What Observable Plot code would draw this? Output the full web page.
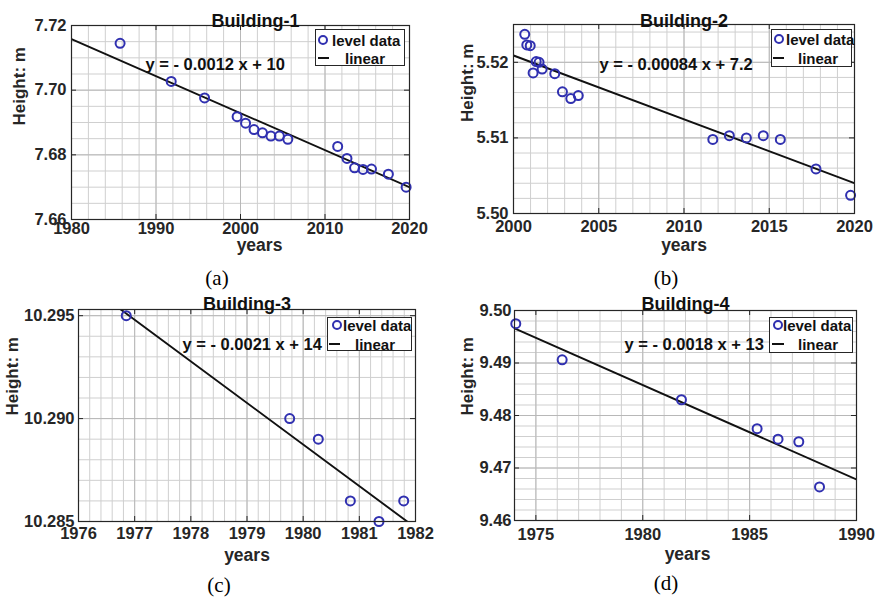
<!DOCTYPE html>
<html>
<head>
<meta charset="utf-8">
<script src="https://cdn.jsdelivr.net/npm/d3@7"></script>
<script src="https://cdn.jsdelivr.net/npm/@observablehq/plot@0.6"></script>
<style>
  html, body { margin: 0; padding: 0; background: #fff; }
  #wrap { position: relative; width: 878px; height: 599px; overflow: hidden; background: #fff; font-family: "Liberation Sans", Arial, sans-serif; }
  .panel { position: absolute; }
  .caption { position: absolute; font-family: "Liberation Serif", "Times New Roman", serif; font-size: 21px; color: #000; transform: translate(-50%, -50%); white-space: nowrap; }
  .legend { position: absolute; border: 1px solid #262626; background: #fff; box-sizing: border-box; font-weight: bold; font-size: 15px; color: #111; }
  .legend .mk { position: absolute; width: 10px; height: 10px; border: 2px solid #3030b0; border-radius: 50%; box-sizing: border-box; transform: translate(-50%, -50%); }
  .legend .ln { position: absolute; height: 2px; background: #111; transform: translateY(-50%); }
  .legend .tx { position: absolute; transform: translateY(-50%); white-space: nowrap; line-height: 1; }
</style>
</head>
<body>
<div id="wrap"></div>
<script>
// ---------- data ----------
const titles = ["Building-1", "Building-2", "Building-3", "Building-4"];
const captions = ["(a)", "(b)", "(c)", "(d)"];
const equations = ["y = - 0.0012 x + 10", "y = - 0.00084 x + 7.2", "y = - 0.0021 x + 14", "y = - 0.0018 x + 13"];
const xLabel = "years";
const yLabel = "Height: m";
const legendLabels = ["level data", "linear"];

const years1 = [1985.75, 1991.8, 1995.75, 1999.6, 2000.6, 2001.6, 2002.6, 2003.6, 2004.6, 2005.6, 2011.5, 2012.6, 2013.5, 2014.5, 2015.5, 2017.5, 2019.6];
const heights1 = [7.7145, 7.7027, 7.6976, 7.6918, 7.6898, 7.6878, 7.6868, 7.6858, 7.6858, 7.6848, 7.6826, 7.6789, 7.6760, 7.6755, 7.6756, 7.6740, 7.6700];
const fitYears1 = [1980, 2020];
const fitHeights1 = [7.7158, 7.6700];

const years2 = [2000.66, 2000.78, 2000.98, 2001.15, 2001.33, 2001.5, 2001.68, 2002.42, 2002.87, 2003.36, 2003.8, 2011.69, 2012.66, 2013.66, 2014.65, 2015.65, 2017.74, 2019.77];
const heights2 = [5.5237, 5.5223, 5.5222, 5.5186, 5.5201, 5.5200, 5.5191, 5.5185, 5.5161, 5.5152, 5.5156, 5.5098, 5.5103, 5.5100, 5.5103, 5.5098, 5.5059, 5.5024];
const fitYears2 = [2000, 2020];
const fitHeights2 = [5.5209, 5.5040];

const years3 = [1976.85, 1979.76, 1980.27, 1980.84, 1981.35, 1981.79];
const heights3 = [10.295, 10.290, 10.289, 10.286, 10.285, 10.286];
const fitYears3 = [1976, 1982];
const fitHeights3 = [10.29682, 10.2847];

const years4 = [1974.06, 1976.23, 1981.81, 1985.35, 1986.33, 1987.30, 1988.27];
const heights4 = [9.4975, 9.4906, 9.4830, 9.4775, 9.4755, 9.4750, 9.4664];
const fitYears4 = [1974, 1990];
const fitHeights4 = [9.4966, 9.4678];

// axis domains and tick labels
const xDomains = [[1980, 2020], [2000, 2020], [1976, 1982], [1974, 1990]];
const yDomains = [[7.66, 7.72], [5.50, 5.525], [10.285, 10.2953], [9.46, 9.50]];
const xTicks1 = [1980, 1990, 2000, 2010, 2020];
const xTicks2 = [2000, 2005, 2010, 2015, 2020];
const xTicks3 = [1976, 1977, 1978, 1979, 1980, 1981, 1982];
const xTicks4 = [1975, 1980, 1985, 1990];
const yTicks1 = [7.66, 7.68, 7.70, 7.72];
const yTicks2 = [5.50, 5.51, 5.52];
const yTicks3 = [10.285, 10.290, 10.295];
const yTicks4 = [9.46, 9.47, 9.48, 9.49, 9.50];
const yFormats = [".2f", ".2f", ".3f", ".2f"];
const xMinorStep = [2, 1, 0.2, 1];
const yMinorStep = [0.005, 0.002, 0.001, 0.002];

// ---------- layout (pixels) ----------
const layouts = [
  {left: 0,   top: 0,   h: 260, ml: 71, mr: 31, mt: 25, mb: 41, tp: 3, yp: 5, tdx: 15, tdy: -11, xdx: 19, xdy: 31, ydx: -52, ydy: 3, edx: 74, edy: 33,
   cap: [217, 278], leg: {x: 315, y: 29, w: 90, h: 37, mk: [7, 10], t1: 16, ln: [2, 13, 28], t2: 29}},
  {left: 438, top: 0,   h: 260, ml: 75, mr: 24, mt: 24, mb: 47, tp: 7, yp: 5, tdx: 0, tdy: -10, xdx: 0, xdy: 37, ydx: -46, ydy: 3, edx: 86, edy: 34,
   cap: [666, 278], leg: {x: 771, y: 29, w: 81, h: 38, mk: [7, 9], t1: 14, ln: [1, 12, 28], t2: 26}},
  {left: 0,   top: 290, h: 280, ml: 78, mr: 25, mt: 19, mb: 49, tp: 6, yp: 4, tdx: 0, tdy: -12, xdx: 0, xdy: 39, ydx: -66, ydy: 0, edx: 104, edy: 29,
   cap: [219, 585], leg: {x: 327, y: 317, w: 85, h: 34, mk: [9, 7], t1: 15, ln: [1, 12, 26], t2: 27}},
  {left: 438, top: 290, h: 280, ml: 76, mr: 22, mt: 20, mb: 50, tp: 8, yp: 3, tdx: 0, tdy: -13, xdx: 2, xdy: 39, ydx: -47, ydy: 0, edx: 110, edy: 28,
   cap: [666, 583], leg: {x: 769, y: 317, w: 84, h: 36, mk: [8, 7], t1: 13, ln: [2, 14, 26], t2: 28}}
];

const series = [
  {years: years1, heights: heights1, fy: fitYears1, fh: fitHeights1, xt: xTicks1, yt: yTicks1},
  {years: years2, heights: heights2, fy: fitYears2, fh: fitHeights2, xt: xTicks2, yt: yTicks2},
  {years: years3, heights: heights3, fy: fitYears3, fh: fitHeights3, xt: xTicks3, yt: yTicks3},
  {years: years4, heights: heights4, fy: fitYears4, fh: fitHeights4, xt: xTicks4, yt: yTicks4}
];

const wrap = document.getElementById("wrap");
const DOT = "#3030b0";
const AX = "#262626";

function minorTicks(domain, step) {
  const n = Math.round((domain[1] - domain[0]) / step);
  const out = [];
  for (let i = 0; i <= n; i++) out.push(+(domain[0] + i * step).toFixed(6));
  return out.filter(v => v <= domain[1] + 1e-9);
}

series.forEach((s, i) => {
  const L = layouts[i];
  const W = 440;
  const pw = W - L.ml - L.mr;
  const ph = L.h - L.mt - L.mb;
  const pts = s.years.map((x, k) => ({x, y: s.heights[k]}));
  const fit = s.fy.map((x, k) => ({x, y: s.fh[k]}));
  const xMinor = minorTicks(xDomains[i], xMinorStep[i]);
  const yMinor = minorTicks(yDomains[i], yMinorStep[i]);

  const chart = Plot.plot({
    width: W, height: L.h,
    marginLeft: L.ml, marginRight: L.mr, marginTop: L.mt, marginBottom: L.mb,
    x: {domain: xDomains[i]},
    y: {domain: yDomains[i]},
    style: {fontFamily: '"Liberation Sans", Arial, sans-serif', fontWeight: "bold", fontSize: "16.5px", color: AX, background: "transparent", overflow: "visible"},
    marks: [
      Plot.frame({fill: "#fff", stroke: "none"}),
      Plot.gridX(xMinor, {stroke: "#cfcfcf", strokeOpacity: 1, strokeWidth: 1}),
      Plot.gridY(yMinor, {stroke: "#cfcfcf", strokeOpacity: 1, strokeWidth: 1}),
      Plot.gridX(s.xt, {stroke: "#b8b8b8", strokeOpacity: 1, strokeWidth: 1}),
      Plot.gridY(s.yt, {stroke: "#b8b8b8", strokeOpacity: 1, strokeWidth: 1}),
      // inward tick marks on all four sides
      Plot.tickX(s.xt, {x: d => d, stroke: AX, insetTop: ph - 5}),
      Plot.tickX(s.xt, {x: d => d, stroke: AX, insetBottom: ph - 5}),
      Plot.tickY(s.yt, {y: d => d, stroke: AX, insetRight: pw - 5}),
      Plot.tickY(s.yt, {y: d => d, stroke: AX, insetLeft: pw - 5}),
      Plot.line(fit, {x: "x", y: "y", stroke: "#111", strokeWidth: 1.9, clip: true}),
      Plot.dot(pts, {x: "x", y: "y", r: 4.5, stroke: DOT, strokeWidth: 2, fill: "none"}),
      Plot.frame({stroke: AX, strokeWidth: 1.2}),
      Plot.axisX({ticks: s.xt, tickSize: 0, tickPadding: L.tp, tickFormat: d3.format("d"), label: null, fontSize: 16.5, fill: AX}),
      Plot.axisY({ticks: s.yt, tickSize: 0, tickPadding: L.yp, tickFormat: d3.format(yFormats[i]), label: null, fontSize: 16.5, fill: AX}),
      Plot.text([equations[i]], {text: d => d, frameAnchor: "top-left", textAnchor: "start", dx: L.edx, dy: L.edy, fontSize: 16.5, fontWeight: "bold", fill: "#111"}),
      Plot.text([titles[i]], {text: d => d, frameAnchor: "top", dx: L.tdx, dy: L.tdy, fontSize: 18, fontWeight: "bold", fill: "#111"}),
      Plot.text([xLabel], {text: d => d, frameAnchor: "bottom", dx: L.xdx, dy: L.xdy, fontSize: 17.5, fontWeight: "bold", fill: AX}),
      Plot.text([yLabel], {text: d => d, frameAnchor: "left", rotate: -90, dx: L.ydx, dy: L.ydy, fontSize: 17, fontWeight: "bold", fill: AX})
    ]
  });
  chart.classList.add("panel");
  chart.style.left = L.left + "px";
  chart.style.top = L.top + "px";
  wrap.appendChild(chart);

  // legend
  const g = L.leg;
  const leg = document.createElement("div");
  leg.className = "legend";
  Object.assign(leg.style, {left: g.x + "px", top: g.y + "px", width: g.w + "px", height: g.h + "px"});
  const mk = document.createElement("div");
  mk.className = "mk";
  Object.assign(mk.style, {left: g.mk[0] + "px", top: g.mk[1] + "px"});
  const t1 = document.createElement("div");
  t1.className = "tx"; t1.textContent = legendLabels[0];
  Object.assign(t1.style, {left: g.t1 + "px", top: g.mk[1] + "px"});
  const ln = document.createElement("div");
  ln.className = "ln";
  Object.assign(ln.style, {left: g.ln[0] + "px", width: (g.ln[1] - g.ln[0]) + "px", top: g.ln[2] + "px"});
  const t2 = document.createElement("div");
  t2.className = "tx"; t2.textContent = legendLabels[1];
  Object.assign(t2.style, {left: g.t2 + "px", top: g.ln[2] + "px"});
  leg.append(mk, t1, ln, t2);
  wrap.appendChild(leg);

  // caption
  const cap = document.createElement("div");
  cap.className = "caption";
  cap.textContent = captions[i];
  Object.assign(cap.style, {left: L.cap[0] + "px", top: L.cap[1] + "px"});
  wrap.appendChild(cap);
});
</script>
</body>
</html>
